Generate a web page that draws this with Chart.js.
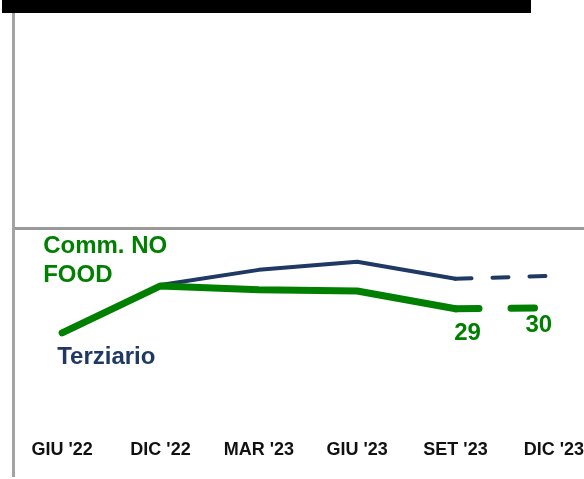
<!DOCTYPE html>
<html>
<head>
<meta charset="utf-8">
<script src="https://cdn.jsdelivr.net/npm/chart.js@4.4.1/dist/chart.umd.min.js"></script>
<style>
  html, body { margin: 0; padding: 0; background: #fff; overflow: hidden; width: 584px; height: 479px; }
  #bar { position: absolute; left: 2px; top: 0; width: 529px; height: 13px; background: #000; z-index: 2; }
  #chart { position: absolute; left: 0; top: 0; }
</style>
</head>
<body>
<div id="bar"></div>
<canvas id="chart" width="604" height="479"></canvas>
<script>
const periods = ["GIU '22", "DIC '22", "MAR '23", "GIU '23", "SET '23", "DIC '23"];
const commNoFood = [25.3, 36.4, 35.5, 35.2, 31.0, 31.2];
const terziario = [null, 36.6, 40.2, 42.1, 38.1, 38.8];
const commNoFoodLabels = [null, null, null, null, "29", "30"];
const commName = ["Comm. NO", "FOOD"];
const terzName = "Terziario";

const GREEN = "#007f00";
const NAVY = "#1f3864";
const GRAY = "#a3a3a3";
const LAST = periods.length - 2; // last segment is the forecast, dashed

const textLabels = {
  id: "textLabels",
  afterDatasetsDraw(chart) {
    const ctx = chart.ctx;
    const pts = chart.getDatasetMeta(0).data;
    const p0 = pts[0];
    ctx.save();
    ctx.font = "bold 24px 'Liberation Sans', Arial, sans-serif";
    ctx.textAlign = "left";
    ctx.fillStyle = GREEN;
    commName.forEach((t, i) => ctx.fillText(t, p0.x - 19, p0.y - 80 + i * 29));
    ctx.fillStyle = NAVY;
    ctx.fillText(terzName, p0.x - 5, p0.y + 31);
    ctx.fillStyle = GREEN;
    ctx.textAlign = "center";
    commNoFoodLabels.forEach((t, i) => {
      if (!t) return;
      const dx = i === pts.length - 1 ? -15 : 12;
      const dy = i === pts.length - 1 ? 24 : 31;
      ctx.fillText(t, pts[i].x + dx, pts[i].y + dy);
    });
    ctx.restore();
  }
};

new Chart(document.getElementById("chart"), {
  type: "line",
  data: {
    labels: periods,
    datasets: [
      {
        label: "Comm. NO FOOD",
        data: commNoFood,
        borderColor: GREEN,
        borderWidth: 7,
        borderCapStyle: "round",
        borderJoinStyle: "round",
        pointRadius: 0,
        tension: 0,
        segment: { borderDash: c => c.p0DataIndex === LAST ? [23.5, 32] : undefined }
      },
      {
        label: "Terziario",
        data: terziario,
        borderColor: NAVY,
        borderWidth: 4,
        borderCapStyle: "round",
        borderJoinStyle: "round",
        pointRadius: 0,
        tension: 0,
        segment: { borderDash: c => c.p0DataIndex === LAST ? [16, 21] : undefined }
      }
    ]
  },
  options: {
    responsive: false,
    animation: false,
    layout: { padding: { left: 13, right: 1, top: 0, bottom: 4 } },
    plugins: { legend: { display: false }, tooltip: { enabled: false } },
    scales: {
      x: {
        position: { y: 0 },
        offset: true,
        border: { display: false },
        grid: { display: false },
        ticks: {
          padding: -9,
          color: "#111",
          font: { family: "'Liberation Sans', Arial, sans-serif", size: 18, weight: "bold" },
          maxRotation: 0,
          autoSkip: false
        }
      },
      y: {
        min: -8.3,
        max: 104,
        afterBuildTicks: s => { s.ticks = [{ value: 50 }]; },
        ticks: { display: false },
        grid: { drawTicks: false, lineWidth: 3, color: "#999" },
        border: { display: true, color: GRAY, width: 3 }
      }
    }
  },
  plugins: [textLabels]
});
</script>
</body>
</html>
